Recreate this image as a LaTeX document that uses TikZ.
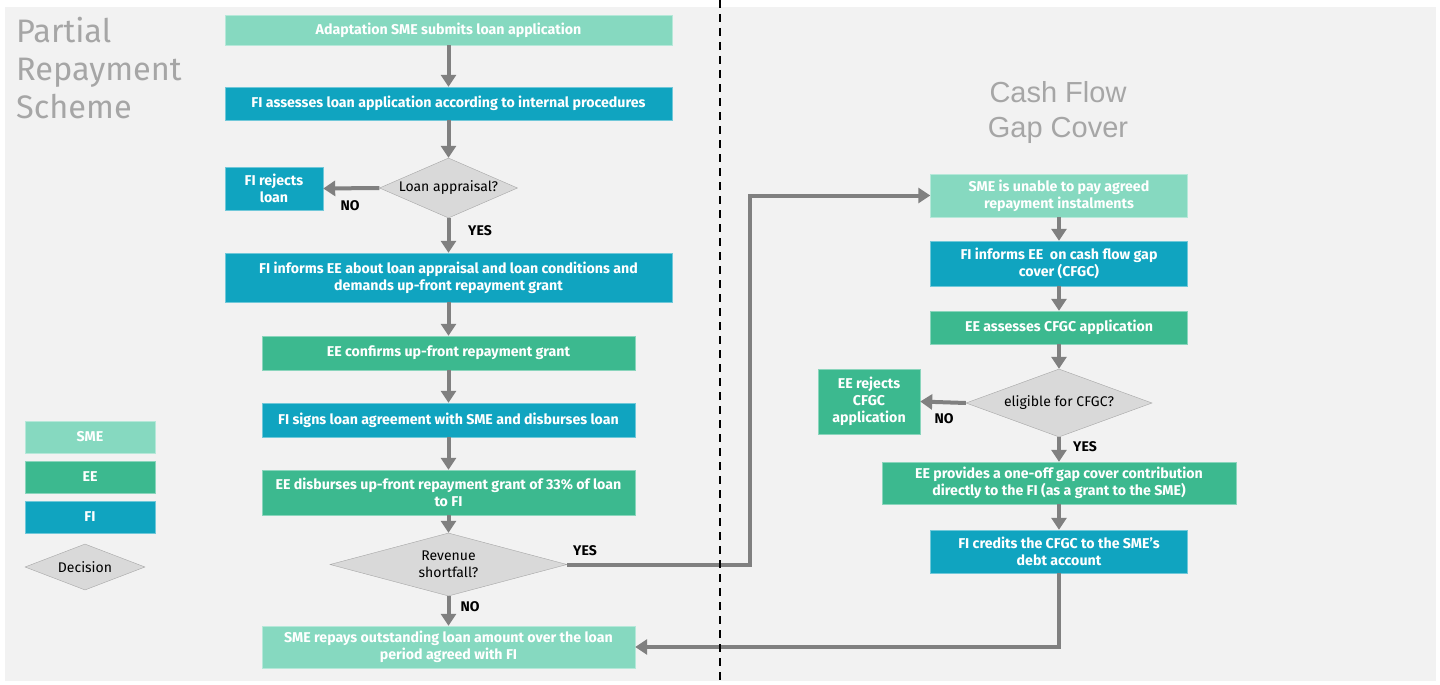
\documentclass[tikz,border=0pt]{standalone}
\usepackage{fontspec}
\setmainfont{Fira Sans}
\newfontfamily\headfont{Liberation Sans}
\usetikzlibrary{shapes.geometric}
\usetikzlibrary{arrows.meta}

\definecolor{smecol}{HTML}{86D9C0}
\definecolor{eecol}{HTML}{3CB98F}
\definecolor{ficol}{HTML}{10A4C0}
\definecolor{bgcol}{HTML}{F2F2F2}
\definecolor{deccol}{HTML}{D9D9D9}
\definecolor{flowcol}{HTML}{808080}
\definecolor{headcol}{HTML}{A6A6A6}

\tikzset{
    box/.style={rectangle, inner sep=2pt, align=center, text=white, font=\fontsize{14.2}{17}\selectfont\bfseries},
    smebox/.style={box, fill=smecol, draw=smecol!60!white},
    eebox/.style={box, fill=eecol, draw=eecol!60!white},
    fibox/.style={box, fill=ficol, draw=ficol!60!white},
    decision/.style={diamond, fill=deccol, draw=headcol, inner sep=0pt, align=center, font=\fontsize{14}{17}\selectfont},
    flow/.style={draw=flowcol, line width=4pt, -{Triangle[width=15pt,length=12pt]}},
    lbl/.style={inner sep=0pt, font=\fontsize{14}{16}\selectfont\bfseries},
}

\begin{document}
\begin{tikzpicture}[x=1pt, y=-1pt]
    \useasboundingbox (0,0) rectangle (1440,685);
    \fill [bgcol] (5,7) rectangle (1436,681);

    % headings
    \node [anchor=north west, align=left, inner sep=0pt, text=headcol, font=\fontsize{32.5}{38}\selectfont] (prs) at (16,17) {Partial\\Repayment\\Scheme};
    \node [align=center, text=headcol, font=\headfont\fontsize{29}{35}\selectfont] (cfgchead) at (1058,112.5) {Cash Flow\\Gap Cover};

    % partial repayment scheme
    \node [smebox, minimum width=447pt, minimum height=30pt] (apply) at (448.5,30) {Adaptation SME submits loan application};
    \node [fibox, minimum width=447pt, minimum height=33pt] (assess) at (448.5,103.5) {FI assesses loan application according to internal procedures};
    \node [decision, minimum width=138pt, minimum height=60pt, aspect=2.3] (appraisal) at (448.5,188) {Loan appraisal?};
    \node [fibox, minimum width=98pt, minimum height=43pt] (reject) at (274,188.5) {FI rejects\\loan};
    \node [fibox, minimum width=447pt, minimum height=49pt] (inform) at (448.5,277.5) {FI informs EE about loan appraisal and loan conditions and\\demands up-front repayment grant};
    \node [eebox, minimum width=373pt, minimum height=34pt] (confirm) at (448.5,353) {EE confirms up-front repayment grant};
    \node [fibox, minimum width=373pt, minimum height=34pt] (sign) at (448.5,420) {FI signs loan agreement with SME and disburses loan};
    \node [eebox, minimum width=373pt, minimum height=45pt] (grant) at (448.5,492.5) {EE disburses up-front repayment grant of 33\% of loan\\to FI};
    \node [decision, minimum width=237pt, minimum height=63pt, aspect=3.76] (shortfall) at (448.5,564.5) {Revenue\\shortfall?};
    \node [smebox, minimum width=373pt, minimum height=42pt] (repay) at (448.5,647) {SME repays outstanding loan amount over the loan\\period agreed with FI};

    % cash flow gap cover
    \node [smebox, minimum width=257pt, minimum height=43pt] (unable) at (1059,195.5) {SME is unable to pay agreed\\repayment instalments};
    \node [fibox, minimum width=257pt, minimum height=45pt] (cfgc) at (1059,263.5) {FI informs EE\ \ on cash flow gap\\cover (CFGC)};
    \node [eebox, minimum width=257pt, minimum height=33pt] (check) at (1059,327.5) {EE assesses CFGC application};
    \node [decision, minimum width=186pt, minimum height=68pt, aspect=2.7] (eligible) at (1059,403) {eligible for CFGC?};
    \node [eebox, minimum width=102pt, minimum height=65pt] (refuse) at (869,401.5) {EE rejects\\CFGC\\application};
    \node [eebox, minimum width=354pt, minimum height=42pt] (contrib) at (1059,483) {EE provides a one-off gap cover contribution\\directly to the FI (as a grant to the SME)};
    \node [fibox, minimum width=257pt, minimum height=43pt] (credit) at (1059,551.5) {FI credits the CFGC to the SME’s\\debt account};

    % legend
    \node [smebox, minimum width=130pt, minimum height=32pt] (legsme) at (90,437) {SME};
    \node [eebox, minimum width=130pt, minimum height=32pt] (legee) at (90,477) {EE};
    \node [fibox, minimum width=130pt, minimum height=32pt] (legfi) at (90,517) {FI};
    \node [decision, minimum width=120pt, minimum height=46pt, aspect=2.6] (legdec) at (85,567) {Decision};

    \coordinate (jog) at (750,0);
    \draw [flow] (apply) -- (assess);
    \draw [flow] (assess) -- (appraisal);
    \draw [flow] (appraisal.west) -- (reject.east);
    \draw [flow] (appraisal) -- (inform);
    \draw [flow] (inform) -- (confirm);
    \draw [flow] (confirm) -- (sign);
    \draw [flow] (sign) -- (grant);
    \draw [flow] (grant) -- (shortfall);
    \draw [flow] (shortfall) -- (repay);
    \draw [flow] (shortfall.east) -- (shortfall.east -| jog) |- (unable.west);
    \draw [flow] (unable) -- (cfgc);
    \draw [flow] (cfgc) -- (check);
    \draw [flow] (check) -- (eligible);
    \draw [flow] (eligible.west) -- (refuse.east);
    \draw [flow] (eligible) -- (contrib);
    \draw [flow] (contrib) -- (credit);
    \draw [flow] (credit.south) |- (repay.east);

    \node [lbl] (no1) at (350,206) {NO};
    \node [lbl] (yes1) at (480,231) {YES};
    \node [lbl] (yes2) at (585,551) {YES};
    \node [lbl] (no2) at (470,607) {NO};
    \node [lbl] (no3) at (944,419) {NO};
    \node [lbl] (yes3) at (1085,447) {YES};

    \draw [line width=2pt, dash pattern=on 8pt off 6pt] (720,0) -- (720,685);
\end{tikzpicture}
\end{document}
